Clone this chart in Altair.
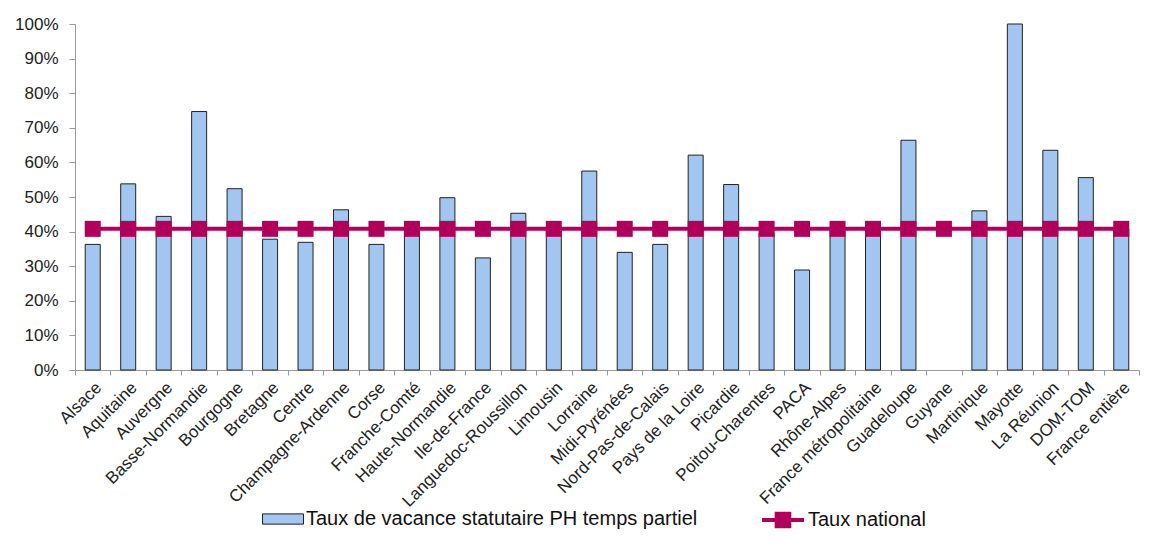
import altair as alt
import pandas as pd

regions = ["Alsace", "Aquitaine", "Auvergne", "Basse-Normandie", "Bourgogne", "Bretagne",
           "Centre", "Champagne-Ardenne", "Corse", "Franche-Comté", "Haute-Normandie",
           "Ile-de-France", "Languedoc-Roussillon", "Limousin", "Lorraine", "Midi-Pyrénées",
           "Nord-Pas-de-Calais", "Pays de la Loire", "Picardie", "Poitou-Charentes", "PACA",
           "Rhône-Alpes", "France métropolitaine", "Guadeloupe", "Guyane", "Martinique",
           "Mayotte", "La Réunion", "DOM-TOM", "France entière"]
taux_vacance = [36.3, 53.8, 44.4, 74.7, 52.4, 37.8, 36.9, 46.3, 36.3, 40.0, 49.8,
                32.4, 45.3, 40.2, 57.5, 34.0, 36.3, 62.1, 53.6, 39.6, 28.9,
                40.3, 40.5, 66.4, None, 46.0, 100.0, 63.5, 55.6, 40.8]
taux_national = [40.8] * len(regions)

lab_bar = "Taux de vacance statutaire PH temps partiel"
lab_line = "Taux national"

df = pd.DataFrame({
    "region": regions,
    "taux": [v / 100 if v is not None else None for v in taux_vacance],
    "national": [v / 100 for v in taux_national],
    "s1": lab_bar,
    "s2": lab_line,
})

FONT = "Liberation Sans"
MAG = "#B0005A"
BLUE = "#A3C6F0"

x = alt.X("region:N", sort=regions, title=None,
          scale=alt.Scale(paddingInner=0, paddingOuter=0),
          axis=alt.Axis(labelAngle=-45, labelFontSize=17, labelFont=FONT, labelColor="#222",
                        tickBand="extent", tickSize=5, tickColor="#999", domainColor="#999",
                        labelPadding=4))

yscale = alt.Scale(domain=[0, 1])
yaxis = alt.Axis(format=".0%", values=[i / 10 for i in range(11)], grid=False,
                 labelFontSize=17, labelFont=FONT, labelColor="#222", tickSize=6,
                 tickColor="#999", domainColor="#999", labelPadding=11)

bars = alt.Chart(df).mark_bar(size=15, stroke="#222", strokeWidth=1).encode(
    x=x,
    y=alt.Y("taux:Q", scale=yscale, axis=yaxis, title=None),
    fill=alt.Fill("s1:N", scale=alt.Scale(domain=[lab_bar], range=[BLUE]),
                  legend=alt.Legend(orient="none", legendX=187, legendY=474, title=None,
                                    symbolType="M-1,-0.25H1V0.25H-1Z", symbolSize=1681,
                                    symbolStrokeColor="#222", symbolStrokeWidth=1,
                                    symbolFillColor=BLUE, symbolOpacity=1,
                                    labelFontSize=20, labelFont=FONT, labelColor="#111",
                                    labelLimit=800, labelOffset=2, padding=0)),
)

line = alt.Chart(df).mark_line(strokeWidth=4).encode(
    x=x,
    y=alt.Y("national:Q", scale=yscale, axis=yaxis, title=None),
    stroke=alt.Stroke("s2:N", scale=alt.Scale(domain=[lab_line], range=[MAG]),
                      legend=alt.Legend(orient="none", legendX=685, legendY=473, title=None,
                                        symbolType="M-1,0H1M-0.3,-0.3H0.3V0.3H-0.3Z",
                                        symbolSize=1764, symbolStrokeWidth=4,
                                        symbolFillColor=MAG, symbolStrokeColor=MAG,
                                        labelFontSize=20, labelFont=FONT, labelColor="#111",
                                        labelLimit=800, labelOffset=2, padding=0)),
)

pts = alt.Chart(df).mark_square(size=256, color=MAG, filled=True, opacity=1).encode(
    x=x,
    y=alt.Y("national:Q", scale=yscale, axis=yaxis, title=None),
)

chart = alt.layer(bars, line, pts).resolve_scale(fill="independent", stroke="independent").properties(
    width=1064, height=346,
    autosize=alt.AutoSizeParams(type="none"),
    padding={"left": 67, "top": 16, "right": 3, "bottom": 163},
).configure_view(stroke=None)

chart.save("out.html", embed_options={"renderer": "svg", "actions": False})
